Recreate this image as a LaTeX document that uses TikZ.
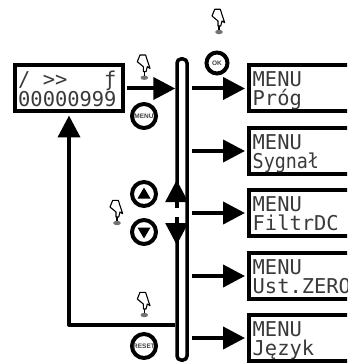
\documentclass[tikz,border=0pt]{standalone}
\usepackage{fontspec}
\usepackage{tikz}
\usetikzlibrary{arrows.meta}
\setmainfont{Liberation Sans}
\newfontfamily\lcdfont{DejaVu Sans Mono}
\definecolor{lcdink}{HTML}{3A3A3A}
\tikzset{
  lcdbox/.style={draw, line width=4pt, fill=white, anchor=west, minimum width=125pt,
    minimum height=46pt, inner sep=0pt},
  lcdrow/.style={anchor=base west, inner sep=0pt, text=lcdink,
    font=\lcdfont\fontsize{20.4}{20.4}\selectfont},
  keybtn/.style={circle, draw, line width=4pt, fill=white, minimum size=24pt, inner sep=0pt,
    font=\bfseries\fontsize{6.5}{7}\selectfont, text=black!75},
  flowline/.style={line width=4pt, -{Triangle[length=22pt, width=22pt]}},
}
\newcommand{\lcdscreen}[5]{%
  \node[lcdbox] (#1) at (#2, #3) {};
  \node[lcdrow] (#1top) at (#2+5.5, #3-1.5) {#4};
  \node[lcdrow] (#1low) at (#2+5.5, #3+17.5) {#5};}
\newcommand{\handmark}[2]{%
  \begin{scope}[shift={(#1, #2)}]
    \fill[black!55] (0,0) ellipse (3.8pt and 2.2pt);
    \draw[line width=1.5pt] (0,-2) -- (0,-9);
    \draw[fill=white, line width=1.1pt, line join=round]
      (-4.3,-22.7) -- (1.3,-22.7) -- (4,-14.3) -- (5.7,-9.3) -- (3,-11) -- (1.7,-6)
      -- (-1,-6) -- (-1,-11) -- (-7,-16) -- cycle;
  \end{scope}}

\begin{document}
\begin{tikzpicture}[x=1pt, y=-1pt]

\clip (0,0) rectangle (347,363);

\node[lcdbox, minimum width=108pt] (lcdmain) at (13,88.5) {};
\node[lcdrow] (lcdmaintop) at (18,87) {/~>>~~~ƒ};
\node[lcdrow] (lcdmainlow) at (18,106.5) {00000999};

\lcdscreen{lcdprog}{247}{88.5}{MENU}{Próg}
\lcdscreen{lcdsig}{247}{151}{MENU}{\scalebox{.9}[1]{Sygnał}}
\lcdscreen{lcdfilt}{247}{213}{MENU}{FiltrDC}
\lcdscreen{lcdzero}{247}{276}{MENU}{Ust.ZERO}
\lcdscreen{lcdlang}{247}{338}{MENU}{Język}

\node[draw, line width=3.5pt, rounded corners=4pt, minimum width=10pt, minimum height=301pt,
  inner sep=0pt] (bar) at (182,209.5) {};
\fill[white] (175,208) rectangle (180,217);

\coordinate (upfoot) at (176.7,208);
\coordinate (uptip) at (176.7,180);
\coordinate (downfoot) at (176.7,217);
\coordinate (downtip) at (176.7,245);
\draw[flowline] (upfoot) -- (uptip);
\draw[flowline] (downfoot) -- (downtip);

\draw[flowline, shorten <=2pt] (lcdmain.east) -- (bar.west |- lcdmain.east);
\draw[flowline, shorten <=3pt, shorten >=2pt] (bar.east |- lcdprog.west) -- (lcdprog.west);
\draw[flowline, shorten <=3pt, shorten >=2pt] (bar.east |- lcdsig.west) -- (lcdsig.west);
\draw[flowline, shorten <=3pt, shorten >=2pt] (bar.east |- lcdfilt.west) -- (lcdfilt.west);
\draw[flowline, shorten <=3pt, shorten >=2pt] (bar.east |- lcdzero.west) -- (lcdzero.west);
\draw[flowline, shorten <=3pt, shorten >=2pt] (bar.east |- lcdlang.west) -- (lcdlang.west);

\coordinate (loopstart) at (bar.west |- 0,324.5);
\draw[flowline, line join=round, shorten >=2pt] (loopstart) -- (lcdmain.south |- loopstart) -- (lcdmain.south);

\node[keybtn] (btnmenu) at (144,116) {MENU};
\node[keybtn, minimum size=21pt] (btnok) at (217,63) {OK};
\node[keybtn] (btnup) at (144,194) {};
\node[keybtn] (btndown) at (144,232) {};
\node[keybtn] (btnreset) at (144,346) {RESET};
\fill (btnup.center) ++(-6.5,4.5) -- ++(13,0) -- ++(-6.5,-11) -- cycle;
\fill (btndown.center) ++(-6.5,-4.5) -- ++(13,0) -- ++(-6.5,11) -- cycle;

\handmark{144.3}{77.7}
\handmark{219}{32}
\handmark{117}{223}
\handmark{144.3}{315}

\end{tikzpicture}
\end{document}
